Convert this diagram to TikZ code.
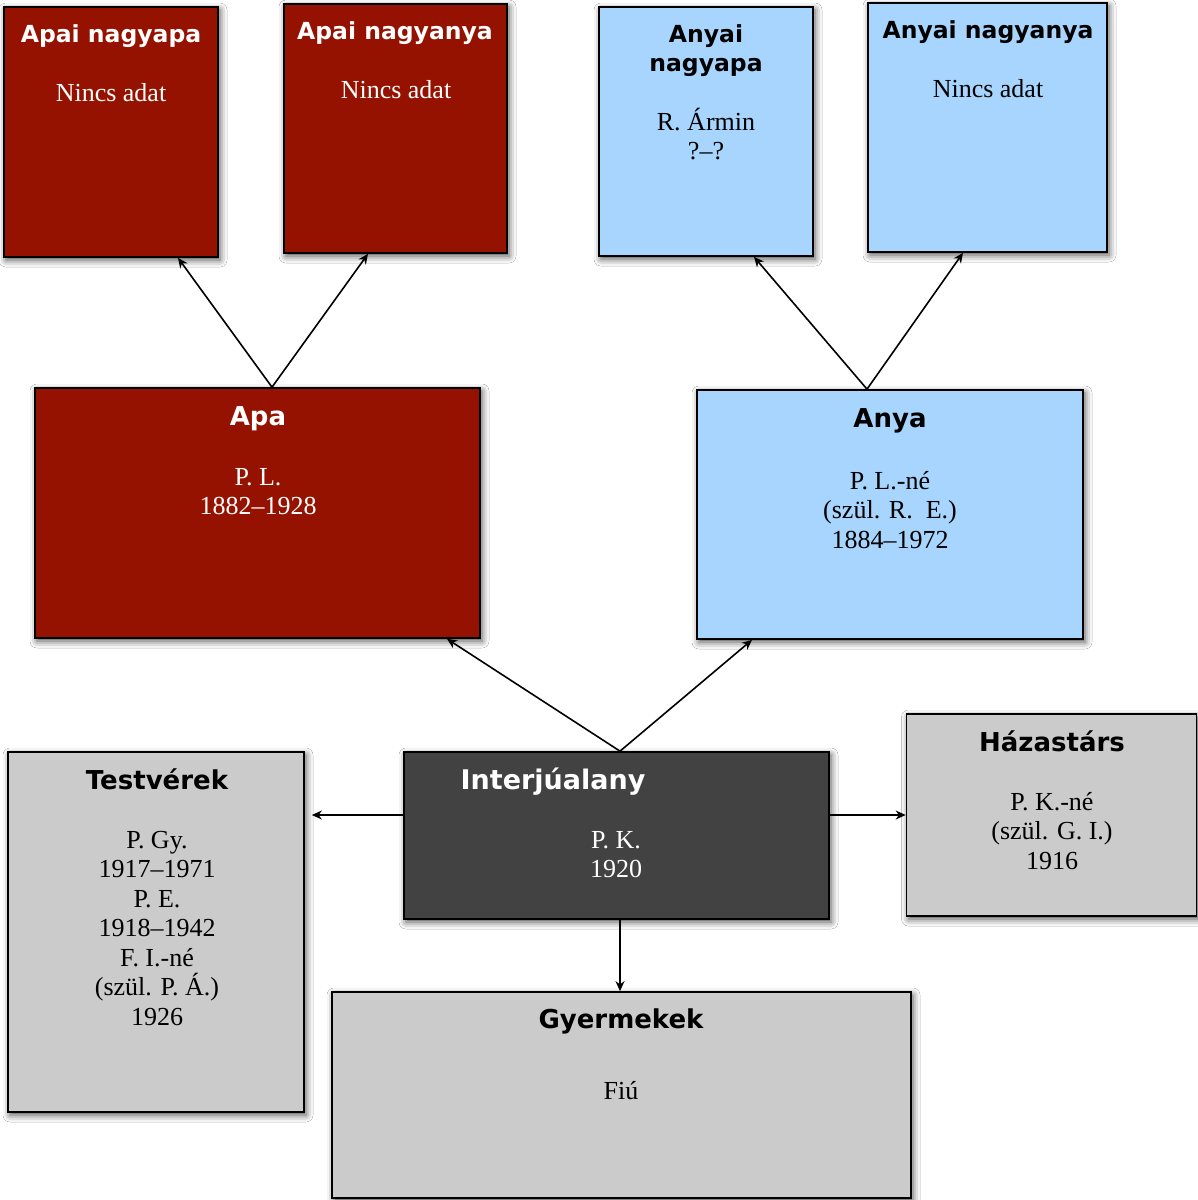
\documentclass[tikz,border=0pt]{standalone}
\usepackage{fontspec}
\setmainfont{Liberation Serif}
\newfontfamily\titlefont{DejaVu Sans}
\usetikzlibrary{arrows.meta,shadows.blur}
\definecolor{pred}{RGB}{150,18,0}
\definecolor{pblue}{RGB}{167,213,253}
\definecolor{pdark}{RGB}{66,66,66}
\definecolor{pgrey}{RGB}{203,203,203}
\begin{document}
\begin{tikzpicture}[x=1pt,y=-1pt,
  box/.style={draw=black,line width=1.7pt,inner sep=0pt,
    blur shadow={shadow xshift=2pt,shadow yshift=-3pt,shadow blur radius=7pt,shadow opacity=70}},
  redbox/.style={box,fill=pred},
  bluebox/.style={box,fill=pblue},
  darkbox/.style={box,fill=pdark},
  greybox/.style={box,fill=pgrey},
  ttl/.style={anchor=base,inner sep=0pt,font=\titlefont\bfseries\fontsize{26}{29}\selectfont},
  ttls/.style={anchor=base,inner sep=0pt,align=center,font=\titlefont\bfseries\fontsize{23.5}{29}\selectfont},
  bdy/.style={anchor=base,inner sep=0pt,align=center,font=\fontsize{26}{29.5}\selectfont},
  arr/.style={-{Stealth[length=10pt,width=9pt]},line width=1.6pt}]
\useasboundingbox (0,0) rectangle (1198,1200);
\fill[white] (0,0) rectangle (1198,1200);

% boxes
\node[redbox,minimum width=214pt,minimum height=250pt] (gp1) at (111,132) {};
\node[redbox,minimum width=223pt,minimum height=249pt] (gm1) at (395.5,128.5) {};
\node[bluebox,minimum width=214pt,minimum height=249pt] (gp2) at (706,131.5) {};
\node[bluebox,minimum width=239pt,minimum height=249pt] (gm2) at (987.5,127.5) {};
\node[redbox,minimum width=445pt,minimum height=250pt] (apa) at (257.5,513) {};
\node[bluebox,minimum width=386pt,minimum height=249pt] (anya) at (890,514.5) {};
\node[darkbox,minimum width=425pt,minimum height=167pt] (ego) at (616.5,835.5) {};
\node[greybox,minimum width=296pt,minimum height=360pt] (sib) at (156,932) {};
\node[greybox,minimum width=290pt,minimum height=202pt] (spouse) at (1051.5,815) {};
\node[greybox,minimum width=579pt,minimum height=206pt] (kids) at (621.5,1095) {};

% texts (multi-line nodes: anchor base = last line's baseline)
\node[ttls,text=white] (t1) at (111,42) {Apai nagyapa};
\node[bdy,text=white] (b1) at (111,101) {Nincs adat};
\node[ttls,text=white] (t2) at (395,39) {Apai nagyanya};
\node[bdy,text=white] (b2) at (396,98) {Nincs adat};
\node[ttls] (t3) at (706,71) {Anyai\\nagyapa};
\node[bdy] (b3) at (706,159.5) {R. Ármin\\?–?};
\node[ttls] (t4) at (988,38) {Anyai nagyanya};
\node[bdy] (b4) at (988,97) {Nincs adat};
\node[ttl,text=white] (t5) at (258,425) {Apa};
\node[bdy,text=white] (b5) at (258,514.5) {P. L.\\1882–1928};
\node[ttl] (t6) at (890,427) {Anya};
\node[bdy] (b6) at (890,548) {P. L.-né\\(szül. R.\ \ E.)\\1884–1972};
\node[ttl,text=white,font=\titlefont\bfseries\fontsize{27}{29}\selectfont] (t7) at (553,789) {Interjúalany};
\node[bdy,text=white] (b7) at (616,877.5) {P. K.\\1920};
\node[ttl] (t8) at (157,789) {Testvérek};
\node[bdy] (b8) at (157,1025) {P. Gy.\\1917–1971\\P. E.\\1918–1942\\F. I.-né\\(szül. P. Á.)\\1926};
\node[ttl] (t9) at (1052,751) {Házastárs};
\node[bdy] (b9) at (1052,869) {P. K.-né\\(szül. G. I.)\\1916};
\node[ttl] (t10) at (621,1028) {Gyermekek};
\node[bdy] (b10) at (621,1099) {Fiú};

% connectors
\draw[arr] ([xshift=14.5pt]apa.north) -- ([xshift=67pt]gp1.south);
\draw[arr] ([xshift=14.5pt]apa.north) -- ([xshift=-27.5pt]gm1.south);
\draw[arr] ([xshift=-23pt]anya.north) -- ([xshift=48pt]gp2.south);
\draw[arr] ([xshift=-23pt]anya.north) -- ([xshift=-24.5pt]gm2.south);
\draw[arr] ([xshift=3.5pt]ego.north) -- ([xshift=189.5pt]apa.south);
\draw[arr] ([xshift=3.5pt]ego.north) -- ([xshift=-138pt]anya.south);
\draw[arr] ([yshift=20.5pt]ego.west) -- ([xshift=7pt,yshift=117pt]sib.east);
\draw[arr] ([yshift=20.5pt]ego.east) -- (spouse.west);
\draw[arr] ([xshift=3.5pt]ego.south) -- ([xshift=-1.5pt]kids.north);
\end{tikzpicture}
\end{document}
